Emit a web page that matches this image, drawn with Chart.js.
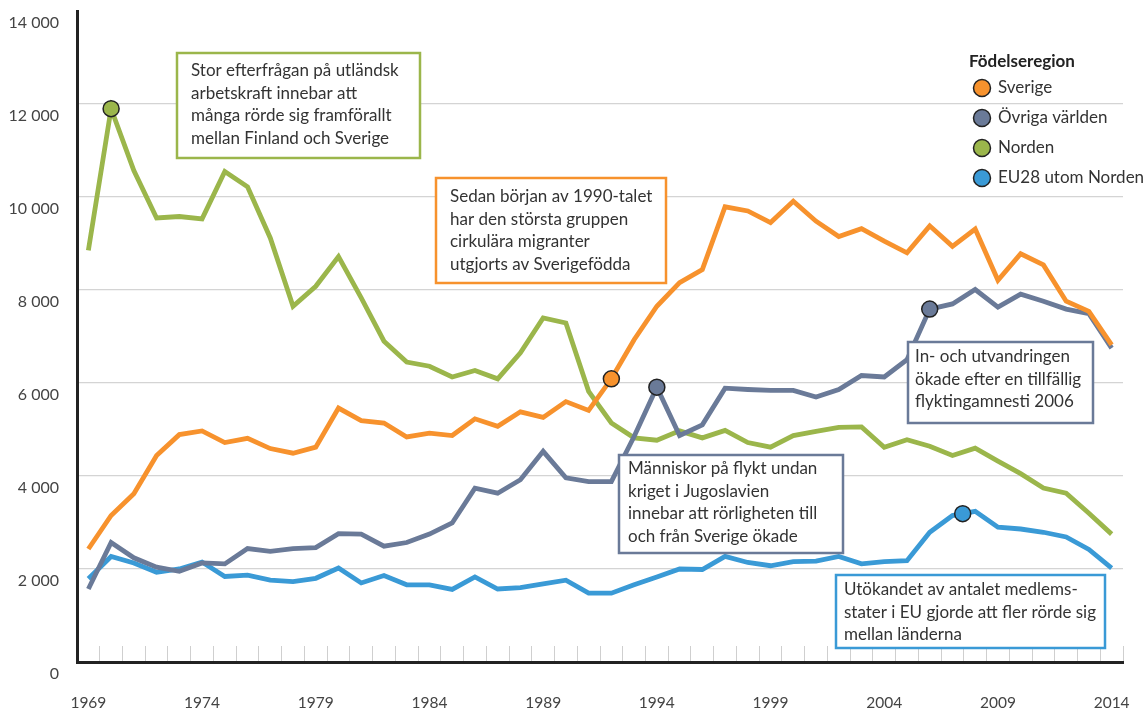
<!DOCTYPE html>
<html>
<head>
<meta charset="utf-8">
<script src="https://cdn.jsdelivr.net/npm/chart.js@4.4.1/dist/chart.umd.min.js"></script>
<style>
  html, body { margin: 0; padding: 0; background: #fff; }
</style>
</head>
<body>
<canvas id="chart" width="1146" height="710"></canvas>
<script>
// categories
const years = ['1969','1970','1971','1972','1973','1974','1975','1976','1977','1978',
  '1979','1980','1981','1982','1983','1984','1985','1986','1987','1988',
  '1989','1990','1991','1992','1993','1994','1995','1996','1997','1998',
  '1999','2000','2001','2002','2003','2004','2005','2006','2007','2008',
  '2009','2010','2011','2012','2013','2014'];
const xTickLabels = ['1969','1974','1979','1984','1989','1994','1999','2004','2009','2014'];
const yTickLabels = ['0','2 000','4 000','6 000','8 000','10 000','12 000','14 000'];

// series (antal personer)
const sverige = [2430,3150,3620,4440,4890,4970,4720,4810,4590,4490,
  4620,5460,5190,5140,4840,4920,4870,5230,5070,5380,
  5260,5600,5410,6090,6930,7650,8160,8440,9790,9700,
  9450,9910,9480,9150,9320,9050,8800,9380,8940,9310,
  8210,8780,8540,7760,7540,6820];
const ovrigaVarlden = [1570,2570,2240,2040,1950,2130,2110,2440,2380,2440,
  2460,2760,2750,2490,2570,2750,2990,3740,3630,3920,
  4530,3960,3880,3880,4850,5910,4870,5100,5890,5860,
  5840,5840,5700,5860,6160,6130,6500,7590,7700,8010,
  7630,7910,7760,7590,7490,6750];
const norden = [8850,11900,10570,9550,9580,9530,10550,10220,9120,7650,
  8080,8720,7830,6900,6450,6360,6130,6270,6090,6650,
  7400,7290,5820,5140,4820,4770,4970,4820,4980,4720,
  4620,4870,4960,5045,5055,4620,4780,4640,4440,4600,
  4320,4050,3740,3630,3200,2750];
const eu28 = [1790,2270,2130,1930,2000,2150,1840,1870,1760,1730,
  1800,2020,1700,1860,1660,1660,1560,1830,1570,1600,
  1680,1760,1480,1480,1660,1830,2000,1990,2270,2140,
  2070,2160,2170,2270,2110,2160,2180,2790,3150,3240,
  2900,2860,2790,2690,2420,2020];

const COLORS = {
  sverige: '#F7922D',
  ovriga: '#6A7A98',
  norden: '#9BB64B',
  eu28: '#3A9AD6'
};
const FONT = 'Lato, "Open Sans", sans-serif';
const TEXT = '#333';

// highlighted points on the lines (dataset index, year, fraction toward next year)
const markers = [
  { set: 2, year: '1970', frac: 0 },
  { set: 0, year: '1992', frac: 0 },
  { set: 1, year: '1994', frac: 0 },
  { set: 1, year: '2006', frac: 0 },
  { set: 3, year: '2007', frac: 0.45 }
];

// text boxes
const notes = [
  { color: COLORS.norden, x: 177, y: 53, w: 243, h: 105, tx: 14, ty: 18,
    lines: ['Stor efterfrågan på utländsk', 'arbetskraft innebar att', 'många rörde sig framförallt', 'mellan Finland och Sverige'] },
  { color: COLORS.sverige, x: 436, y: 178, w: 230, h: 105, tx: 14, ty: 19,
    lines: ['Sedan början av 1990-talet', 'har den största gruppen', 'cirkulära migranter', 'utgjorts av Sverigefödda'] },
  { color: COLORS.ovriga, x: 619, y: 455, w: 224, h: 98, tx: 9, ty: 14,
    lines: ['Människor på flykt undan', 'kriget i Jugoslavien', 'innebar att rörligheten till', 'och från Sverige ökade'] },
  { color: COLORS.ovriga, x: 908, y: 342, w: 185, h: 81, tx: 7, ty: 15,
    lines: ['In- och utvandringen', 'ökade efter en tillfällig', 'flyktingamnesti 2006'] },
  { color: COLORS.eu28, x: 836, y: 575, w: 269, h: 73, tx: 8, ty: 15,
    lines: ['Utökandet av antalet medlems-', 'stater i EU gjorde att fler rörde sig', 'mellan länderna'] }
];

const notesPlugin = {
  id: 'notes',
  afterDatasetsDraw(chart) {
    const ctx = chart.ctx;
    ctx.save();

    markers.forEach(m => {
      const meta = chart.getDatasetMeta(m.set);
      const i = years.indexOf(m.year);
      const a = meta.data[i];
      const b = meta.data[Math.min(i + 1, meta.data.length - 1)];
      const px = a.x + (b.x - a.x) * m.frac;
      const py = a.y + (b.y - a.y) * m.frac;
      ctx.beginPath();
      ctx.arc(px, py, 8, 0, Math.PI * 2);
      ctx.fillStyle = chart.data.datasets[m.set].borderColor;
      ctx.fill();
      ctx.lineWidth = 1.5;
      ctx.strokeStyle = '#222';
      ctx.stroke();
    });

    ctx.font = '17px ' + FONT;
    ctx.textBaseline = 'middle';
    ctx.textAlign = 'left';
    notes.forEach(n => {
      ctx.fillStyle = '#fff';
      ctx.fillRect(n.x, n.y, n.w, n.h);
      ctx.lineWidth = 2.5;
      ctx.strokeStyle = n.color;
      ctx.strokeRect(n.x, n.y, n.w, n.h);
      ctx.fillStyle = TEXT;
      n.lines.forEach((t, k) => ctx.fillText(t, n.x + n.tx, n.y + n.ty + k * 22.5));
    });

    // legend
    ctx.font = 'bold 17px ' + FONT;
    ctx.fillStyle = '#222';
    ctx.fillText('Födelseregion', 969, 62);
    ctx.font = '17px ' + FONT;
    chart.data.datasets.forEach((ds, k) => {
      const ly = 88 + k * 30;
      ctx.beginPath();
      ctx.arc(982, ly, 8.5, 0, Math.PI * 2);
      ctx.fillStyle = ds.borderColor;
      ctx.fill();
      ctx.lineWidth = 1.5;
      ctx.strokeStyle = '#222';
      ctx.stroke();
      ctx.fillStyle = TEXT;
      ctx.fillText(ds.label, 998, ly);
    });
    ctx.restore();
  }
};

function line(label, data, color) {
  return {
    label: label,
    data: data,
    borderColor: color,
    backgroundColor: color,
    borderWidth: 4.8,
    pointRadius: 0,
    tension: 0,
    fill: false
  };
}

function noPad(s) {
  s.paddingTop = 0; s.paddingBottom = 0; s.paddingLeft = 0; s.paddingRight = 0;
}

new Chart(document.getElementById('chart'), {
  type: 'line',
  data: {
    labels: years,
    datasets: [
      line('Sverige', sverige, COLORS.sverige),
      line('Övriga världen', ovrigaVarlden, COLORS.ovriga),
      line('Norden', norden, COLORS.norden),
      line('EU28 utom Norden', eu28, COLORS.eu28)
    ]
  },
  options: {
    responsive: false,
    animation: false,
    devicePixelRatio: 1,
    layout: { padding: { top: 11, right: 23, left: 0, bottom: 0 } },
    plugins: { legend: { display: false }, tooltip: { enabled: false } },
    scales: {
      x: {
        offset: true,
        grid: { offset: true, drawOnChartArea: false, drawTicks: true, tickLength: -16, color: '#cfcfcf', lineWidth: 1 },
        border: { color: '#222', width: 3 },
        ticks: {
          autoSkip: false, maxRotation: 0, padding: 48,
          color: '#444', font: { family: FONT, size: 15.5 },
          callback: (v, i) => xTickLabels.includes(years[i]) ? years[i] : ''
        },
        afterFit: s => { s.height = 48; noPad(s); }
      },
      y: {
        min: 0, max: 14000,
        grid: {
          drawTicks: false,
          color: c => (c.tick && (c.tick.value === 0 || c.tick.value === 14000)) ? 'rgba(0,0,0,0)' : '#d4d4d4',
          lineWidth: 1.2
        },
        border: { color: '#222', width: 3 },
        ticks: {
          stepSize: 2000, padding: 18, labelOffset: 12,
          color: '#444', font: { family: FONT, size: 16 },
          callback: (v, i) => yTickLabels[i]
        },
        afterFit: s => { s.width = 77; noPad(s); }
      }
    }
  },
  plugins: [notesPlugin]
});
</script>
</body>
</html>
